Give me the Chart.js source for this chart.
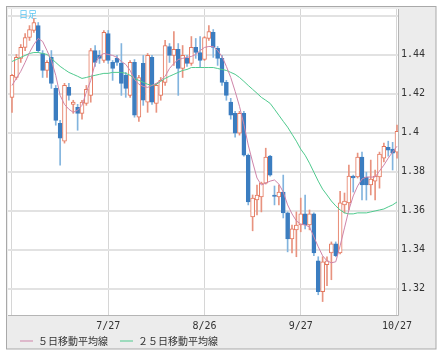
<!DOCTYPE html>
<html><head><meta charset="utf-8">
<script src="https://cdn.jsdelivr.net/npm/chart.js@4.4.0/dist/chart.umd.min.js"></script>
<style>html,body{margin:0;padding:0;background:#fff}canvas{display:block}</style>
</head><body>
<canvas id="c" width="443" height="358"></canvas>
<script>
// ---- data ----
const opens  = [1.4182,1.4284,1.4382,1.4438,1.4489,1.4525,1.4550,1.4407,1.4320,1.4387,
                1.4228,1.4049,1.3957,1.4233,1.4146,1.4131,1.4100,1.4151,1.4192,1.4422,
                1.4397,1.4371,1.4509,1.4361,1.4382,1.4356,1.4295,1.4192,1.4361,1.4080,
                1.4356,1.4157,1.4387,1.4151,1.4192,1.4259,1.4443,1.4397,1.4428,1.4330,
                1.4382,1.4356,1.4438,1.4412,1.4376,1.4484,1.4515,1.4433,1.4382,1.4259,
                1.4157,1.4100,1.3998,1.4100,1.3885,1.3568,1.3655,1.3671,1.3742,1.3880,
                1.3681,1.3671,1.3696,1.3589,1.3456,1.3502,1.3527,1.3584,1.3527,1.3584,
                1.3343,1.3185,1.3323,1.3384,1.3430,1.3384,1.3630,1.3640,1.3778,1.3773,
                1.3875,1.3773,1.3732,1.3752,1.3773,1.3870,1.3926,1.3916,1.3901];
const highs  = [1.4300,1.4402,1.4453,1.4509,1.4550,1.4586,1.4566,1.4422,1.4371,1.4422,
                1.4243,1.4064,1.4254,1.4254,1.4167,1.4146,1.4167,1.4243,1.4433,1.4448,
                1.4422,1.4525,1.4525,1.4371,1.4397,1.4458,1.4310,1.4371,1.4376,1.4295,
                1.4397,1.4407,1.4397,1.4254,1.4284,1.4474,1.4458,1.4520,1.4458,1.4448,
                1.4397,1.4494,1.4484,1.4494,1.4494,1.4550,1.4530,1.4443,1.4397,1.4269,
                1.4177,1.4110,1.4110,1.4110,1.3891,1.3681,1.3732,1.3747,1.3921,1.3885,
                1.3727,1.3732,1.3783,1.3594,1.3527,1.3594,1.3665,1.3681,1.3604,1.3589,
                1.3364,1.3364,1.3364,1.3440,1.3440,1.3700,1.3691,1.3834,1.3783,1.3896,
                1.3901,1.3798,1.3860,1.3809,1.3901,1.3947,1.3957,1.3951,1.4039];
const lows   = [1.4105,1.4274,1.4361,1.4422,1.4474,1.4515,1.4412,1.4284,1.4284,1.4228,
                1.4039,1.3834,1.3947,1.4167,1.4100,1.4013,1.4070,1.4141,1.4157,1.4341,
                1.4356,1.4361,1.4356,1.4269,1.4346,1.4192,1.4182,1.4182,1.4080,1.4059,
                1.4141,1.4105,1.4146,1.4105,1.4167,1.4243,1.4361,1.4346,1.4192,1.4284,
                1.4341,1.4346,1.4382,1.4335,1.4371,1.4474,1.4387,1.4346,1.4243,1.4167,
                1.4070,1.3977,1.3988,1.3880,1.3630,1.3497,1.3578,1.3594,1.3737,1.3778,
                1.3630,1.3630,1.3563,1.3389,1.3384,1.3364,1.3492,1.3507,1.3502,1.3369,
                1.3169,1.3134,1.3215,1.3246,1.3364,1.3379,1.3589,1.3604,1.3696,1.3768,
                1.3655,1.3655,1.3681,1.3655,1.3716,1.3850,1.3880,1.3809,1.3870];
const closes = [1.4295,1.4387,1.4438,1.4489,1.4530,1.4566,1.4422,1.4320,1.4361,1.4254,
                1.4064,1.3972,1.4243,1.4192,1.4157,1.4100,1.4157,1.4223,1.4422,1.4361,
                1.4382,1.4515,1.4371,1.4330,1.4361,1.4254,1.4228,1.4361,1.4090,1.4284,
                1.4167,1.4397,1.4157,1.4243,1.4269,1.4448,1.4397,1.4428,1.4330,1.4397,
                1.4356,1.4438,1.4412,1.4371,1.4489,1.4520,1.4438,1.4382,1.4259,1.4192,
                1.4090,1.3998,1.4100,1.3885,1.3645,1.3665,1.3681,1.3742,1.3875,1.3783,
                1.3674,1.3696,1.3589,1.3456,1.3507,1.3527,1.3584,1.3527,1.3584,1.3384,
                1.3185,1.3338,1.3343,1.3430,1.3369,1.3640,1.3650,1.3778,1.3768,1.3875,
                1.3732,1.3732,1.3763,1.3778,1.3891,1.3931,1.3911,1.3896,1.4008];
const ma5    = [1.4243,1.4279,1.4315,1.4361,1.4412,1.4453,1.4484,1.4469,1.4422,1.4371,
                1.4295,1.4192,1.4146,1.4121,1.4105,1.4116,1.4141,1.4208,1.4269,1.4356,
                1.4392,1.4407,1.4402,1.4397,1.4387,1.4366,1.4351,1.4320,1.4274,1.4249,
                1.4238,1.4233,1.4243,1.4254,1.4269,1.4290,1.4330,1.4356,1.4376,1.4382,
                1.4387,1.4392,1.4402,1.4422,1.4438,1.4443,1.4443,1.4422,1.4392,1.4341,
                1.4284,1.4213,1.4136,1.4044,1.3937,1.3850,1.3768,1.3732,1.3742,1.3752,
                1.3758,1.3737,1.3696,1.3630,1.3584,1.3548,1.3532,1.3527,1.3517,1.3466,
                1.3415,1.3369,1.3343,1.3333,1.3338,1.3420,1.3512,1.3604,1.3676,1.3727,
                1.3763,1.3773,1.3773,1.3773,1.3804,1.3834,1.3870,1.3901,1.3931];
const ma25   = [1.4366,1.4376,1.4387,1.4397,1.4407,1.4412,1.4412,1.4407,1.4402,1.4382,
                1.4361,1.4341,1.4325,1.4310,1.4300,1.4290,1.4279,1.4284,1.4290,1.4295,
                1.4300,1.4305,1.4305,1.4310,1.4310,1.4310,1.4305,1.4295,1.4279,1.4269,
                1.4259,1.4249,1.4243,1.4249,1.4264,1.4279,1.4290,1.4300,1.4310,1.4320,
                1.4325,1.4335,1.4335,1.4335,1.4335,1.4335,1.4335,1.4330,1.4325,1.4320,
                1.4310,1.4300,1.4284,1.4264,1.4243,1.4223,1.4203,1.4182,1.4167,1.4151,
                1.4121,1.4090,1.4059,1.4029,1.3993,1.3957,1.3916,1.3885,1.3844,1.3798,
                1.3752,1.3711,1.3681,1.3650,1.3625,1.3604,1.3589,1.3584,1.3584,1.3589,
                1.3589,1.3589,1.3594,1.3599,1.3604,1.3609,1.3620,1.3630,1.3645];
const xTickIndex  = [0, 22, 44, 66, 88];
const xTickLabels = ['', '7/27', '8/26', '9/27', '10/27'];
const yTickValues = [1.32, 1.34, 1.36, 1.38, 1.40, 1.42, 1.44, 1.46];
const yTickLabels = ['1.32', '1.34', '1.36', '1.38', '1.4', '1.42', '1.44', ''];
const seriesNames = ['５日移動平均線', '２５日移動平均線'];
const chartTag = '日足';

// ---- styles ----
const UP = '#e4765c', UP_WICK = '#e8937f', DOWN = '#3b7dc0', DOWN_WICK = '#82b4de';
const idx = closes.map((_, i) => i);
const up = idx.map(i => closes[i] >= opens[i]);

const framePlugin = {
  id: 'frame',
  beforeDraw(chart) {
    const {ctx, chartArea: a, height} = chart;
    ctx.save();
    ctx.fillStyle = '#ececec';
    ctx.fillRect(7, 7, a.right + 38 - 7, height - 9 - 7);
    ctx.fillStyle = '#ffffff';
    ctx.fillRect(a.left, a.top, a.right - a.left, a.bottom - a.top);
    ctx.restore();
  },
  beforeDatasetsDraw(chart) {
    const {ctx, chartArea: a} = chart;
    ctx.save();
    ctx.fillStyle = '#5cc6f2';
    ctx.font = '9px "Noto Sans CJK JP"';
    ctx.textBaseline = 'middle';
    ctx.fillText(chartTag, a.left + 11, a.top + 6);
    ctx.restore();
  },
  afterDraw(chart) {
    const {ctx, chartArea: a, height} = chart;
    ctx.save();
    ctx.strokeStyle = '#a9a9a9';
    ctx.lineWidth = 1;
    ctx.strokeRect(6.5, 6.5, a.right + 38 - 6.5, height - 9 - 6.5);
    ctx.strokeStyle = '#b5b5b5';
    ctx.beginPath();
    ctx.moveTo(a.right + 0.5, a.top); ctx.lineTo(a.right + 0.5, a.bottom + 0.5);
    ctx.moveTo(a.left, a.bottom + 0.5); ctx.lineTo(a.right + 0.5, a.bottom + 0.5);
    ctx.stroke();
    ctx.restore();
  }
};

new Chart(document.getElementById('c'), {
  type: 'bar',
  data: {
    datasets: [
      { type: 'line', label: seriesNames[0], data: idx.map(i => ({x: i, y: ma5[i]})),
        borderColor: '#cf85aa', borderWidth: 1, pointRadius: 0, tension: 0, order: 0 },
      { type: 'line', label: seriesNames[1], data: idx.map(i => ({x: i, y: ma25[i]})),
        borderColor: '#4fca8e', borderWidth: 1, pointRadius: 0, tension: 0, order: 1 },
      { type: 'bar', label: 'wick', data: idx.map(i => ({x: i, y: [lows[i], highs[i]]})),
        backgroundColor: idx.map(i => up[i] ? UP_WICK : DOWN_WICK), borderWidth: 0,
        barThickness: 1, grouped: false, order: 3 },
      { type: 'bar', label: 'body', data: idx.map(i => ({x: i, y: [opens[i], closes[i]]})),
        backgroundColor: idx.map(i => up[i] ? '#ffffff' : DOWN),
        borderColor: idx.map(i => up[i] ? UP : DOWN), borderWidth: 1, borderSkipped: false,
        barThickness: 4, grouped: false, order: 2 }
    ]
  },
  options: {
    responsive: false, animation: false, events: [],
    devicePixelRatio: 1,
    layout: { padding: { left: 8, top: 8, right: 7, bottom: 2 } },
    scales: {
      x: {
        type: 'linear', min: -0.914, max: 88.229, offset: false,
        grid: { color: '#d6d6d6', lineWidth: 1, drawTicks: false, offset: false },
        border: { display: false },
        afterBuildTicks: s => { s.ticks = xTickIndex.map(v => ({value: v})); },
        afterFit: s => { s.height = 9; },
        ticks: { autoSkip: false, maxRotation: 0, mirror: true, padding: -17, color: '#333',
                 font: { family: 'DejaVu Sans Mono', size: 10 },
                 callback: (v) => xTickLabels[xTickIndex.indexOf(v)] ?? '' }
      },
      y: {
        type: 'linear', position: 'right', min: 1.3065, max: 1.46353,
        grid: { color: '#e2e2e2', lineWidth: 2, drawTicks: false },
        border: { display: false },
        afterBuildTicks: s => { s.ticks = yTickValues.map(v => ({value: v})); },
        afterFit: s => { s.width = 38; },
        ticks: { padding: 3, color: '#333', font: { family: 'DejaVu Sans Mono', size: 10 },
                 callback: (v) => { const k = yTickValues.findIndex(t => Math.abs(t - v) < 1e-6); return k >= 0 ? yTickLabels[k] : ''; } }
      }
    },
    plugins: {
      tooltip: { enabled: false },
      legend: {
        position: 'bottom', align: 'start',
        labels: {
          usePointStyle: true, pointStyle: 'line', pointStyleWidth: 13,
          color: '#333', padding: 12,
          font: { family: '"Noto Sans CJK JP"', size: 10 },
          filter: item => item.datasetIndex < 2
        }
      }
    }
  },
  plugins: [framePlugin]
});
</script>
</body></html>
